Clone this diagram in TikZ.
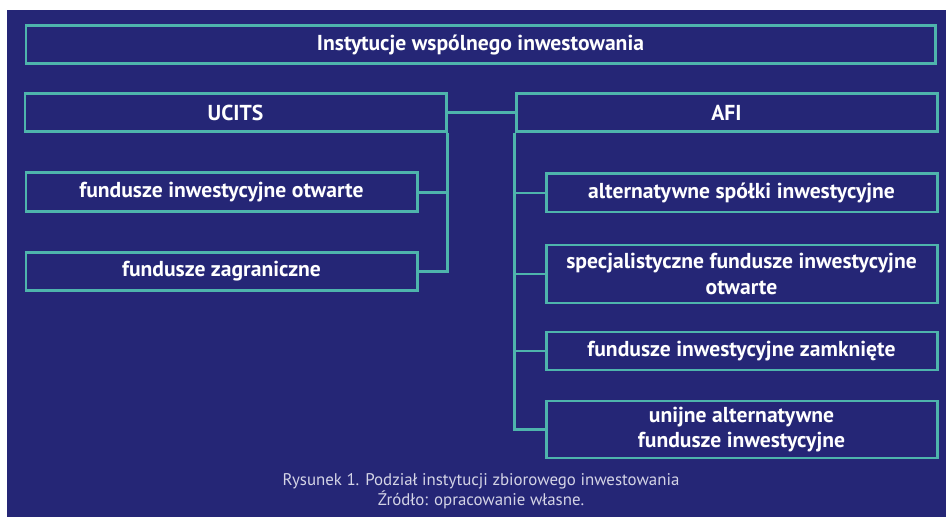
\documentclass[tikz,border=0pt]{standalone}
\usepackage{fontspec}
\setmainfont{PT Sans}
\usepackage{xcolor}
\usepackage{tikz}
\usetikzlibrary{positioning, calc}
\definecolor{navybg}{RGB}{37, 38, 118}
\definecolor{tealline}{RGB}{78, 180, 172}
\definecolor{captiongray}{RGB}{212, 212, 230}

\begin{document}
\begin{tikzpicture}[
    category/.style={
        rectangle, draw=tealline, line width=1.7pt, text=white,
        minimum height=0.76cm, inner sep=2pt, align=center,
        font=\fontsize{12.3}{14.5}\selectfont\bfseries
    },
    link/.style={draw=tealline, line width=1.7pt}
]

% Background
\fill[white] (0, 0) rectangle (18.92, 10.34);
\fill[navybg] (0.14, 0) rectangle (18.92, 10.14);
\useasboundingbox (0, 0) rectangle (18.92, 10.34);

% Top level
\node[category, minimum width=18.18cm] (top) at (9.61, 9.44) {Instytucje wspólnego inwestowania};

% Main groups
\node[category, minimum width=8.42cm] (ucits) at (4.71, 8.08) {UCITS};
\node[category, minimum width=8.42cm] (afi) at (14.53, 8.08) {AFI};

% UCITS members
\node[category, minimum width=7.82cm, minimum height=0.78cm] (fio) at (4.43, 6.49) {fundusze inwestycyjne otwarte};
\node[category, minimum width=7.82cm] (fz) at (4.43, 4.91) {fundusze zagraniczne};

% AFI members
\node[category, minimum width=7.82cm] (asi) at (14.83, 6.48) {alternatywne spółki inwestycyjne};
\node[category, minimum width=7.82cm, minimum height=1.16cm] (sfio) at (14.83, 4.86) {specjalistyczne fundusze inwestycyjne\\otwarte};
\node[category, minimum width=7.82cm] (fiz) at (14.83, 3.32) {fundusze inwestycyjne zamknięte};
\node[category, minimum width=7.82cm, minimum height=1.14cm] (uafi) at (14.83, 1.75) {unijne alternatywne\\fundusze inwestycyjne};

% Caption
\node[text=captiongray, align=center, font=\fontsize{9.6}{11.3}\selectfont] (caption) at (9.62, 0.52) {Rysunek 1. Podział instytucji zbiorowego inwestowania\\Źródło: opracowanie własne.};

% Connectors
\draw[link] (ucits.east) -- (afi.west);
\draw[link] ($(top.south)+(0.03,0)$) -- ($(top.south)+(0.03,0)$ |- ucits.east);
\draw[link] (ucits.south east) |- (fz.east);
\draw[link] (fio.east) -- (fio.east -| ucits.south east);
\draw[link] (afi.south west) |- (uafi.west);
\draw[link] (asi.west) -- (asi.west -| afi.south west);
\draw[link] (sfio.west) -- (sfio.west -| afi.south west);
\draw[link] (fiz.west) -- (fiz.west -| afi.south west);

\end{tikzpicture}
\end{document}
